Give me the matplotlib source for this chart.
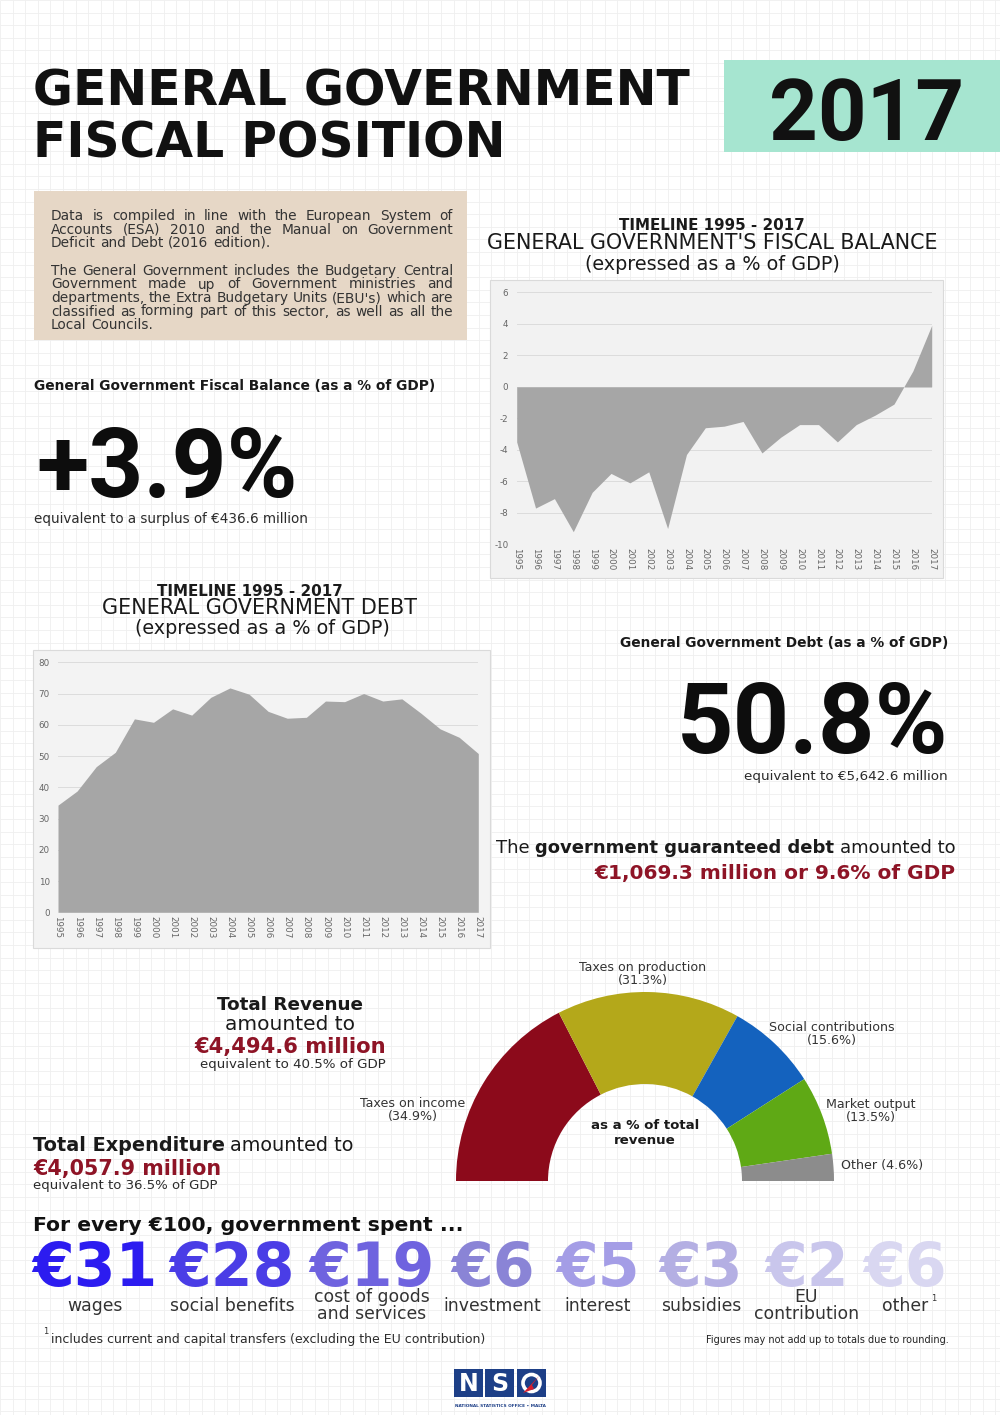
import numpy as np
import matplotlib
matplotlib.use('Agg')
import matplotlib.pyplot as plt
from matplotlib.patches import Rectangle, Circle, Polygon

W, H = 1000, 1415

years = list(range(1995, 2018))
fiscal_balance = [-3.5, -7.7, -7.1, -9.2, -6.7, -5.5, -6.1, -5.4, -9.0, -4.3, -2.6, -2.5,
                  -2.2, -4.2, -3.2, -2.4, -2.4, -3.5, -2.4, -1.8, -1.1, 1.0, 3.9]
debt_ratio = [34.3, 38.8, 46.6, 51.2, 61.9, 60.8, 65.1, 63.1, 68.8, 71.8, 69.8, 64.3,
              62.1, 62.4, 67.6, 67.4, 70.0, 67.6, 68.3, 63.7, 58.7, 56.0, 50.8]
balance_ticks = [-10, -8, -6, -4, -2, 0, 2, 4, 6]
debt_ticks = [0, 10, 20, 30, 40, 50, 60, 70, 80]

rev_labels = ['Taxes on income', 'Taxes on production', 'Social contributions',
              'Market output', 'Other']
rev_shares = [34.9, 31.3, 15.6, 13.5, 4.6]
rev_colors = ['#8c0a1b', '#b4a81a', '#1462be', '#5fa915', '#8c8c8c']

spend_amounts = [31, 28, 19, 6, 5, 3, 2, 6]
spend_labels = ['wages', 'social benefits', 'cost of goods\nand services', 'investment',
                'interest', 'subsidies', 'EU\ncontribution', 'other']
spend_colors = ['#2c1cf0', '#4a3de6', '#6f63df', '#8a84d6', '#a49de6', '#b4afe3',
                '#c9c6ec', '#d9d7f1']

DARK = '#1a1a1a'
BODY = '#2b2b2b'
RED = '#8e1426'
BIG = ['Roboto', 'DejaVu Sans']

fig = plt.figure(figsize=(W / 100, H / 100), dpi=100)
plt.rcParams['font.family'] = ['DejaVu Sans']
plt.rcParams['axes.unicode_minus'] = False
R = fig.canvas.get_renderer()

# full page axes in pixel coordinates (y down)
bg = fig.add_axes([0, 0, 1, 1])
bg.set_xlim(0, W)
bg.set_ylim(H, 0)
bg.axis('off')

# faint page grid
grid_step = 12.6
bg.vlines(np.arange(0, W, grid_step), 0, H, color='#efefef', lw=0.6, zorder=0)
bg.hlines(np.arange(0, H, grid_step), 0, W, color='#efefef', lw=0.6, zorder=0)


def measure(s, size, weight='normal', family=None):
    t = bg.text(0, 0, s, fontsize=size, fontweight=weight)
    if family:
        t.set_family(family)
    w = t.get_window_extent(R).width
    t.remove()
    return w


def fit_size(s, width, weight='normal', family=None):
    return 10 * width / measure(s, 10, weight, family)


def put(x, y, s, size, ha='left', weight='normal', color=BODY, va='baseline', family=None):
    t = bg.text(x, y, s, fontsize=size, ha=ha, va=va, fontweight=weight,
                color=color, zorder=5)
    if family:
        t.set_family(family)
    return t


def fit(x, y, s, width, ha='left', weight='normal', color=BODY, family=None):
    size = fit_size(s, width, weight, family)
    put(x, y, s, size, ha=ha, weight=weight, color=color, family=family)
    return size


def runs(x, y, parts, width, ha='left'):
    # parts: (text, weight, color), joined by spaces, scaled to width
    base = 10
    ws = [measure(s, base, wt) for s, wt, c in parts]
    gap = 0.318 * base * 100 / 72
    total = sum(ws) + gap * (len(ws) - 1)
    k = width / total
    x0 = x - width if ha == 'right' else x
    for (s, wt, c), w in zip(parts, ws):
        put(x0, y, s, base * k, weight=wt, color=c)
        x0 += (w + gap) * k


def justify(lines, x0, x1, ys, size, last=()):
    for i, (line, y) in enumerate(zip(lines, ys)):
        words = line.split()
        ws = [measure(w, size) for w in words]
        if i in last:
            gap = 0.318 * size * 100 / 72
        else:
            gap = (x1 - x0 - sum(ws)) / (len(words) - 1)
        x = x0
        for w, ww in zip(words, ws):
            put(x, y, w, size, color='#333333')
            x += ww + gap


# ---- header ----
tsize = fit(33, 105, 'GENERAL GOVERNMENT', 657, weight='bold', color='#111111')
put(33, 157, 'FISCAL POSITION', tsize, weight='bold', color='#111111')
bg.add_patch(Rectangle((724, 60), 276, 92, fc='#a6e5d0', ec='none', zorder=1))
fit(867, 140, '2017', 195, ha='center', weight='bold', color='#111111', family=BIG)

# ---- info box ----
bg.add_patch(Rectangle((34, 191), 433, 149, fc='#e6d7c6', ec='none', zorder=1))
box_lines = ['Data is compiled in line with the European System of',
             'Accounts (ESA) 2010 and the Manual on Government',
             'Deficit and Debt (2016 edition).',
             'The General Government includes the Budgetary Central',
             'Government made up of Government ministries and',
             "departments, the Extra Budgetary Units (EBU's) which are",
             'classified as forming part of this sector, as well as all the',
             'Local Councils.']
box_size = min(fit_size(l, 400) for l in box_lines)
justify(box_lines, 51, 453, [220, 233.5, 247, 275, 288.5, 302, 315.5, 329], box_size,
        last=(2, 7))

# ---- fiscal balance headline ----
fit(34, 390, 'General Government Fiscal Balance (as a % of GDP)', 401, weight='bold',
    color=DARK)
fit(36, 497, '+3.9%', 261, weight='bold', color='#0d0d0d', family=BIG)
fit(34, 523, 'equivalent to a surplus of €436.6 million', 273)

# ---- chart titles ----
fit(712, 230, 'TIMELINE 1995 - 2017', 187, ha='center', weight='bold', color=DARK)
fit(712, 249, "GENERAL GOVERNMENT'S FISCAL BALANCE", 450, ha='center', color=DARK)
fit(712, 270, '(expressed as a % of GDP)', 254, ha='center', color=DARK)
fit(250, 596, 'TIMELINE 1995 - 2017', 187, ha='center', weight='bold', color=DARK)
fit(260, 614, 'GENERAL GOVERNMENT DEBT', 315, ha='center', color=DARK)
fit(262, 634, '(expressed as a % of GDP)', 254, ha='center', color=DARK)

# chart panels
bg.add_patch(Rectangle((490, 280), 453, 298, fc='#f2f2f2', ec='#dadada', lw=0.8, zorder=1))
bg.add_patch(Rectangle((33, 650), 457, 298, fc='#f3f3f3', ec='#dadada', lw=0.8, zorder=1))


def area_chart(ax, vals, ticks):
    ax.fill_between(years, vals, 0, color='#a6a6a6', lw=0, zorder=2)
    ax.set_xlim(years[0], years[-1])
    ax.set_ylim(ticks[0], ticks[-1])
    ax.set_yticks(ticks)
    ax.set_xticks(years)
    ax.set_xticklabels(years, rotation=270, fontsize=6.3, color='#666666')
    ax.tick_params(axis='y', labelsize=6.3, labelcolor='#666666', length=0, pad=6)
    ax.tick_params(axis='x', length=0, pad=3)
    ax.grid(axis='y', color='#dcdcdc', lw=0.7)
    ax.set_axisbelow(True)
    for sp in ax.spines.values():
        sp.set_visible(False)
    ax.patch.set_alpha(0)


ax1 = fig.add_axes([516.7 / W, 1 - 544.3 / H, 415 / W, 252 / H])
area_chart(ax1, fiscal_balance, balance_ticks)
ax2 = fig.add_axes([58 / W, 1 - 912.3 / H, 420.3 / W, 250 / H])
area_chart(ax2, debt_ratio, debt_ticks)

# ---- debt headline ----
fit(948, 647, 'General Government Debt (as a % of GDP)', 328, ha='right', weight='bold',
    color=DARK)
fit(948, 753, '50.8%', 271, ha='right', weight='bold', color='#0d0d0d', family=BIG)
fit(948, 780, 'equivalent to €5,642.6 million', 202, ha='right')
runs(956, 853, [('The', 'normal', DARK), ('government guaranteed debt', 'bold', DARK),
                ('amounted to', 'normal', DARK)], 460, ha='right')
fit(956, 879, '€1,069.3 million or 9.6% of GDP', 361, ha='right', weight='bold', color=RED)

# ---- revenue / expenditure ----
fit(290, 1010, 'Total Revenue', 147, ha='center', weight='bold', color=DARK)
fit(290, 1030, 'amounted to', 130, ha='center', color=DARK)
fit(290, 1053, '€4,494.6 million', 191, ha='center', weight='bold', color=RED)
fit(293, 1068, 'equivalent to 40.5% of GDP', 186, ha='center')

runs(33, 1151, [('Total Expenditure', 'bold', DARK), ('amounted to', 'normal', DARK)], 321)
fit(33, 1175, '€4,057.9 million', 187, weight='bold', color=RED)
fit(33, 1189, 'equivalent to 36.5% of GDP', 183)

# ---- revenue half donut ----
axp = fig.add_axes([456 / W, 1 - 1370 / H, 378 / W, 378 / H])
axp.pie(rev_shares + [sum(rev_shares)], colors=rev_colors + ['none'], startangle=180,
        counterclock=False, radius=1, wedgeprops=dict(width=92 / 189, linewidth=0))
axp.set_xlim(-1, 1)
axp.set_ylim(-1, 1)
axp.set_aspect('equal')
axp.axis('off')

lab_size = fit_size('Taxes on production', 127)
lab_pos = [(413, 1107), (643, 971), (832, 1031), (871, 1108)]
for (x, y), lab, sh in zip(lab_pos, rev_labels[:4], rev_shares[:4]):
    put(x, y, lab, lab_size, ha='center', color='#333333')
    put(x, y + 13, f'({sh}%)', lab_size, ha='center', color='#333333')
put(841, 1169, f'{rev_labels[4]} ({rev_shares[4]}%)', lab_size, color='#333333')
put(645, 1129, 'as a % of total', 9.6, ha='center', weight='bold', color=DARK)
put(645, 1144, 'revenue', 9.6, ha='center', weight='bold', color=DARK)

# ---- for every 100 spent ----
fit(33, 1231, 'For every €100, government spent ...', 428, weight='bold', color='#111111')
spend_x = [94.5, 232, 372, 492.5, 598, 701, 806.5, 905.5]
amt_size = fit_size('€28', 126, 'bold')
word_size = fit_size('social benefits', 124)
for x, amt, lab, col in zip(spend_x, spend_amounts, spend_labels, spend_colors):
    put(x, 1286, f'€{amt}', amt_size, ha='center', weight='bold', color=col)
    lines = lab.split('\n')
    ys = [1311] if len(lines) == 1 else [1302, 1319]
    for ln, yy in zip(lines, ys):
        t = put(x, yy, ln, word_size, ha='center', color='#333333')
    if lab == 'other':
        right = t.get_window_extent(R).x1
        put(right + 2, 1301, '1', 6, color='#333333')

put(43, 1334, '1', 6, color='#333333')
fit(51, 1343, 'includes current and capital transfers (excluding the EU contribution)', 432)
fit(949, 1343, 'Figures may not add up to totals due to rounding.', 244, ha='right',
    color='#222222')

# ---- NSO logo ----
logo_blue = '#1d3f87'
for x0, letter in zip([454, 485, 517], ['N', 'S', '']):
    bg.add_patch(Rectangle((x0, 1369), 29, 28, fc=logo_blue, ec='none', zorder=4))
    if letter:
        put(x0 + 14.5, 1384, letter, 17, ha='center', weight='bold', color='white',
            va='center')
bg.add_patch(Circle((531.5, 1383), 8.5, fc='none', ec='white', lw=2.6, zorder=5))
bg.add_patch(Polygon([(523, 1393), (539, 1376), (532, 1385), (534, 1389)],
                     closed=True, fc='#d61f2c', ec='none', zorder=6))
fit(500, 1407, 'NATIONAL STATISTICS OFFICE • MALTA', 93, ha='center', weight='bold',
    color=logo_blue)

fig.savefig('out.png', dpi=100)
